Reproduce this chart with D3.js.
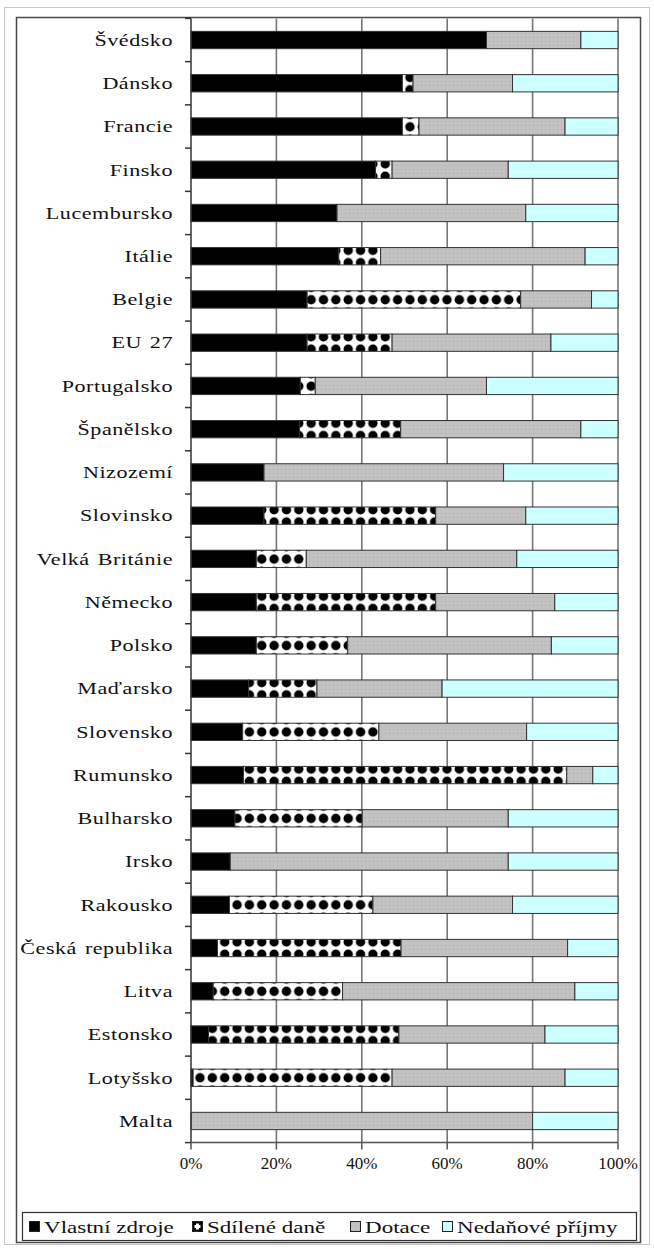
<!DOCTYPE html>
<html>
<head>
<meta charset="utf-8">
<script src="https://cdn.jsdelivr.net/npm/d3@7/dist/d3.min.js"></script>
<style>
  html, body { margin: 0; padding: 0; background: #fff; }
  svg { display: block; }
</style>
</head>
<body>
<svg id="chart" width="654" height="1249"></svg>
<script>
// Structure of municipal revenues by country (shares, %)
const categories = [
  "Švédsko", "Dánsko", "Francie", "Finsko", "Lucembursko", "Itálie", "Belgie",
  "EU 27", "Portugalsko", "Španělsko", "Nizozemí", "Slovinsko", "Velká Británie",
  "Německo", "Polsko", "Maďarsko", "Slovensko", "Rumunsko", "Bulharsko", "Irsko",
  "Rakousko", "Česká republika", "Litva", "Estonsko", "Lotyšsko", "Malta"
];
const vlastniZdroje = [69.2, 49.5, 49.5, 43.2, 34.2, 34.6, 27.2, 27.2, 25.6, 25.4, 17.1, 17.1, 15.3, 15.3, 15.3, 13.5, 12.1, 12.3, 10.3, 9.2, 9.0, 6.2, 5.2, 4.1, 0.5, 0];
const sdileneDane   = [0, 2.5, 3.9, 3.9, 0, 9.8, 50.0, 19.9, 3.5, 23.7, 0, 40.2, 11.7, 42.0, 21.4, 16.0, 31.9, 75.7, 29.8, 0, 33.6, 43.0, 30.3, 44.6, 46.6, 0];
const dotace        = [22.1, 23.3, 34.2, 27.2, 44.2, 47.9, 16.6, 37.2, 40.1, 42.2, 56.1, 21.1, 49.3, 27.9, 47.7, 29.3, 34.6, 6.1, 34.2, 65.1, 32.7, 39.0, 54.4, 34.2, 40.5, 80.0];
const nedanovePrijmy= [8.7, 24.7, 12.4, 25.7, 21.6, 7.7, 6.2, 15.7, 30.8, 8.7, 26.8, 21.6, 23.7, 14.8, 15.6, 41.2, 21.4, 5.9, 25.7, 25.7, 24.7, 11.8, 10.1, 17.1, 12.4, 20.0];
const seriesNames = ["Vlastní zdroje", "Sdílené daně", "Dotace", "Nedaňové příjmy"];
const tickValues = [0, 20, 40, 60, 80, 100];

const FONT = "Liberation Serif";
const keys = ["vlastni", "sdilene", "dotace", "nedanove"];
const rows = categories.map((c, i) => ({
  country: c,
  vlastni: vlastniZdroje[i],
  sdilene: sdileneDane[i],
  dotace: dotace[i],
  nedanove: nedanovePrijmy[i]
}));

const svg = d3.select("#chart");
const plot = { left: 191, right: 618, top: 18.4, bottom: 1142.6 };

// Frames
svg.append("rect").attr("x", 4.5).attr("y", 7.5).attr("width", 645).attr("height", 1237)
  .attr("fill", "#fff").attr("stroke", "#c8c8c8").attr("stroke-width", 1);
svg.append("rect").attr("x", 16.5).attr("y", 17.5).attr("width", 624).attr("height", 1225)
  .attr("fill", "#fff").attr("stroke", "#4a4a4a").attr("stroke-width", 1.5);

// Patterns
const defs = svg.append("defs");
const cell = 12.35;
const shared = defs.append("pattern").attr("id", "pat-sdilene")
  .attr("patternUnits", "userSpaceOnUse")
  .attr("x", 200 - cell / 2).attr("y", 1077.8 - cell / 2)
  .attr("width", cell).attr("height", cell);
shared.append("rect").attr("width", cell).attr("height", cell).attr("fill", "#fff");
shared.append("circle").attr("cx", cell / 2).attr("cy", cell / 2).attr("r", 4.7).attr("fill", "#000");

const grey = defs.append("pattern").attr("id", "pat-dotace")
  .attr("patternUnits", "userSpaceOnUse").attr("width", 4).attr("height", 4);
grey.append("rect").attr("width", 4).attr("height", 4).attr("fill", "#c2c2c2");
grey.append("rect").attr("x", 1).attr("y", 1).attr("width", 1).attr("height", 1).attr("fill", "#ababab");

const fills = {
  vlastni: "#000000",
  sdilene: "url(#pat-sdilene)",
  dotace: "url(#pat-dotace)",
  nedanove: "#ccffff"
};

// Scales
const x = d3.scaleLinear().domain([0, 100]).range([plot.left, plot.right]);
const y = d3.scaleBand().domain(categories).range([plot.top, plot.bottom]).paddingInner(0.6).paddingOuter(0.3);
const band = (plot.bottom - plot.top) / categories.length;

// Vertical gridlines
svg.append("g").selectAll("line").data(tickValues.slice(1)).join("line")
  .attr("x1", d => x(d)).attr("x2", d => x(d))
  .attr("y1", plot.top).attr("y2", plot.bottom)
  .attr("stroke", "#777").attr("stroke-width", 1.6);

// Stacked bars
const stacked = d3.stack().keys(keys)(rows);
svg.append("g").selectAll("g").data(stacked).join("g")
  .attr("fill", s => fills[s.key])
  .selectAll("rect").data(s => s.filter(d => d[1] - d[0] > 0)).join("rect")
  .attr("x", d => x(d[0]))
  .attr("y", d => y(d.data.country))
  .attr("width", d => x(d[1]) - x(d[0]))
  .attr("height", y.bandwidth())
  .attr("stroke", "#333").attr("stroke-width", 1);

// Category axis
const yAxisG = svg.append("g");
yAxisG.append("line").attr("x1", plot.left).attr("x2", plot.left)
  .attr("y1", plot.top).attr("y2", plot.bottom).attr("stroke", "#333").attr("stroke-width", 1.5);
yAxisG.selectAll("line.tick").data(d3.range(categories.length + 1)).join("line")
  .attr("class", "tick")
  .attr("x1", plot.left - 6).attr("x2", plot.left)
  .attr("y1", i => plot.top + i * band).attr("y2", i => plot.top + i * band)
  .attr("stroke", "#333").attr("stroke-width", 1.5);
yAxisG.selectAll("text").data(categories).join("text")
  .attr("transform", d => `translate(173,${y(d) + y.bandwidth() / 2}) scale(1.3,1)`)
  .attr("dy", "0.34em")
  .attr("text-anchor", "end")
  .style("font-family", FONT)
  .style("font-size", "17px")
  .style("letter-spacing", "0.4px")
  .style("word-spacing", "1.5px")
  .attr("fill", "#111")
  .text(d => d);

// Value axis
const xAxisG = svg.append("g");
xAxisG.append("line").attr("x1", plot.left).attr("x2", plot.right)
  .attr("y1", plot.bottom).attr("y2", plot.bottom).attr("stroke", "#555").attr("stroke-width", 1.5);
xAxisG.selectAll("line.tick").data(tickValues).join("line")
  .attr("class", "tick")
  .attr("x1", d => x(d)).attr("x2", d => x(d))
  .attr("y1", plot.bottom).attr("y2", plot.bottom + 7)
  .attr("stroke", "#555").attr("stroke-width", 1.5);
xAxisG.selectAll("text").data(tickValues).join("text")
  .attr("x", d => x(d))
  .attr("y", 1169)
  .attr("text-anchor", "middle")
  .style("font-family", FONT)
  .style("font-size", "17px")
  .attr("fill", "#111")
  .text(d => d + "%");

// Legend
const lg = svg.append("g");
lg.append("rect").attr("x", 22.5).attr("y", 1212.5).attr("width", 614).attr("height", 28)
  .attr("fill", "#fff").attr("stroke", "#333").attr("stroke-width", 1.2);
const legendX = [29, 192, 350, 442];
const legendFill = ["#000", "#000", "url(#pat-dotace)", "#ccffff"];
seriesNames.forEach((name, i) => {
  const g = lg.append("g").attr("transform", `translate(${legendX[i]},1221)`);
  g.append("rect").attr("x", 0.5).attr("y", 0.5).attr("width", 10).attr("height", 10)
    .attr("fill", legendFill[i]).attr("stroke", "#222").attr("stroke-width", 1);
  if (i === 1) {
    g.append("rect").attr("x", 2.5).attr("y", 4).attr("width", 6).attr("height", 3).attr("fill", "#fff");
    g.append("rect").attr("x", 4).attr("y", 2.5).attr("width", 3).attr("height", 6).attr("fill", "#fff");
  }
  g.append("text").attr("transform", "translate(15,11.5) scale(1.44,1)")
    .style("font-family", FONT).style("font-size", "16px").attr("fill", "#111")
    .text(name);
});
</script>
</body>
</html>
